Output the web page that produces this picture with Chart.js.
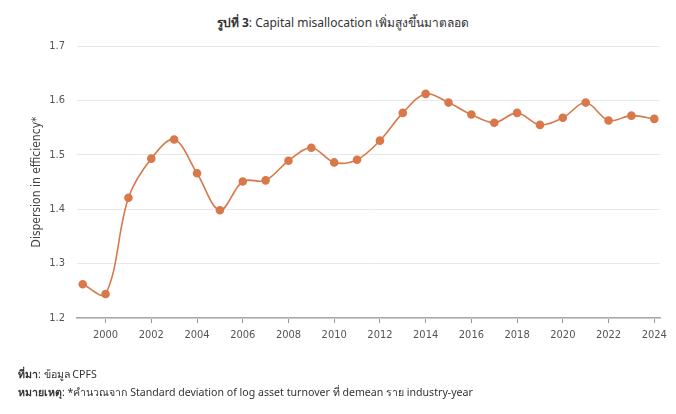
<!DOCTYPE html>
<html lang="th">
<head>
<meta charset="UTF-8">
<title>Capital misallocation</title>
<script src="https://cdn.jsdelivr.net/npm/chart.js"></script>
<style>
  html, body { margin: 0; padding: 0; background: #fff; }
  .wrap { position: relative; width: 676px; height: 414px; font-family: "Noto Sans", "Open Sans", sans-serif; color: #333; }
  .title { position: absolute; top: 13px; left: 0; width: 686px; text-align: center; font-size: 12px; }
  .note { position: absolute; left: 18px; font-size: 10.6px; }
  canvas { position: absolute; top: 0; left: 0; }
</style>
</head>
<body>
<div class="wrap">
  <div class="title"><b>รูปที่ 3</b>: Capital misallocation เพิ่มสูงขึ้นมาตลอด</div>
  <canvas id="chart" width="676" height="414"></canvas>
  <div class="note" style="top:366px"><b>ที่มา</b>: ข้อมูล CPFS</div>
  <div class="note" style="top:384px"><b>หมายเหตุ</b>: *คำนวณจาก Standard deviation of log asset turnover ที่ demean ราย industry-year</div>
</div>
<script>
// ปี และค่า dispersion (อ่านจากภาพ)
const years = [1999, 2000, 2001, 2002, 2003, 2004, 2005, 2006, 2007, 2008, 2009, 2010, 2011,
               2012, 2013, 2014, 2015, 2016, 2017, 2018, 2019, 2020, 2021, 2022, 2023, 2024];
const dispersion = [1.262, 1.244, 1.421, 1.493, 1.528, 1.466, 1.398, 1.451, 1.453, 1.489, 1.513, 1.486, 1.491,
                    1.526, 1.577, 1.612, 1.596, 1.574, 1.559, 1.577, 1.555, 1.568, 1.596, 1.563, 1.572, 1.566];
const xTicks = [2000, 2002, 2004, 2006, 2008, 2010, 2012, 2014, 2016, 2018, 2020, 2022, 2024];
const yTicks = [1.2, 1.3, 1.4, 1.5, 1.6, 1.7];

const lineColor = '#d9784a';
const tickFont = { family: '"DejaVu Sans Condensed", Roboto, sans-serif', size: 11 };

new Chart(document.getElementById('chart'), {
    type: 'line',
    data: {
        datasets: [{
            label: 'Dispersion in efficiency',
            data: years.map((y, i) => ({ x: y, y: dispersion[i] })),
            borderColor: lineColor,
            backgroundColor: lineColor,
            borderWidth: 1.6,
            pointRadius: 3.5,
            pointHoverRadius: 3.5,
            tension: 0.35
        }]
    },
    options: {
        responsive: false,
        animation: false,
        layout: { padding: { top: 46, left: 0, right: 16, bottom: 0 } },
        plugins: { legend: { display: false }, tooltip: { enabled: false } },
        scales: {
            x: {
                type: 'linear',
                min: 1998.75,
                max: 2024.25,
                afterFit: s => { s.height = 96; },
                afterBuildTicks: s => { s.ticks = xTicks.map(v => ({ value: v })); },
                grid: { drawOnChartArea: false, drawTicks: true, tickLength: 5, color: '#999' },
                border: { color: '#aaa', width: 1.5 },
                ticks: { color: '#555', font: tickFont, padding: 6, callback: v => String(v), maxRotation: 0 }
            },
            y: {
                min: 1.2,
                max: 1.7,
                afterFit: s => { s.width = 77; },
                afterBuildTicks: s => { s.ticks = yTicks.map(v => ({ value: v })); },
                grid: { drawTicks: false, color: '#e8e8e8' },
                border: { display: false },
                ticks: { color: '#555', font: tickFont, padding: 12, callback: v => v.toFixed(1) },
                title: {
                    display: true,
                    text: 'Dispersion in efficiency*',
                    color: '#444',
                    font: { family: '"DejaVu Sans Condensed", Roboto, sans-serif', size: 12 },
                    padding: { top: 30, bottom: 0 }
                }
            }
        }
    }
});
</script>
</body>
</html>
